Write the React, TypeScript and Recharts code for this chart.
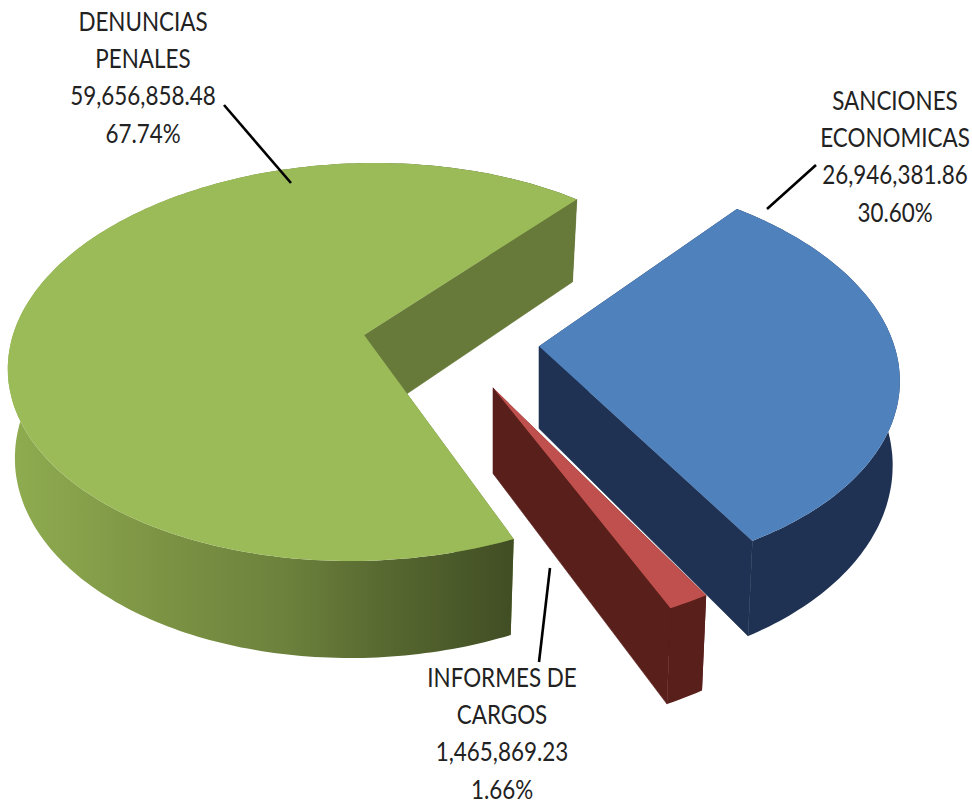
import React from 'react';
import { PieChart, Pie } from 'recharts';

const names = ['SANCIONES ECONOMICAS', 'INFORMES DE CARGOS', 'DENUNCIAS PENALES'];
const amounts = [26946381.86, 1465869.23, 59656858.48];
const data = names.map((name, i) => ({ name, value: amounts[i] }));

// fitted ellipse of every exploded slice, the picture has perspective so they differ a bit
const views: Record<string, any> = {
    'SANCIONES ECONOMICAS': {
        cx: 540.8, cy: 373.7, rx: 358.8, ry: 201.6, shear: 0.0657, d0: 84, d1: 13.5,
        top: '#4f81bd', wall: '#1f3253', outer: '#1f3253',
    },
    'INFORMES DE CARGOS': {
        cx: 494.7, cy: 417, rx: 360, ry: 215, shear: 0.0576, d0: 87, d1: 10,
        top: '#c0504d', wall: '#591f1b', outer: '#591f1b',
    },
    'DENUNCIAS PENALES': {
        cx: 362.4, cy: 362, rx: 354.4, ry: 199, shear: -0.0617, d0: 89, d1: 8,
        top: '#9bbb59', wall: '#687a3a', outer: 'url(#greenWall)',
    },
};

const labelPlaces: Record<string, any> = {
    'SANCIONES ECONOMICAS': {
        x: 895, y: 110, lines: ['SANCIONES', 'ECONOMICAS'], leader: 'M767,209 L816,165',
    },
    'INFORMES DE CARGOS': {
        x: 502, y: 687, lines: ['INFORMES DE', 'CARGOS'], leader: 'M550,568 L539,662',
    },
    'DENUNCIAS PENALES': {
        x: 143, y: 31, lines: ['DENUNCIAS', 'PENALES'], leader: 'M224,105 L291,183',
    },
};

const PERSPECTIVE = -0.136;
const LINE_HEIGHT = 37.2;
const TEXT_SQUEEZE = 0.815;
const RAD = Math.PI / 180;

function project(view: any, angle: number, radius: number) {
    // radius 0 is the slice tip, radius 1 the rim
    const u0 = radius * Math.cos(angle * RAD);
    const v0 = -radius * Math.sin(angle * RAD);
    const k = PERSPECTIVE;
    const den = 1 + k * v0;
    const v = (v0 + k) / den;
    const u = (u0 * Math.sqrt(1 - k * k)) / den;
    const y = view.cy + view.ry * v;
    const x = view.cx + view.rx * u + view.shear * (y - view.cy);
    return { x, y, v };
}

function dropped(view: any, p: { x: number; y: number; v: number }) {
    return {
        x: view.cx + (p.x - view.cx) * 0.98,
        y: p.y + view.d0 + view.d1 * p.v,
    };
}

const toPath = (pts: { x: number; y: number }[]) =>
    pts.map((p, i) => `${i ? 'L' : 'M'}${p.x.toFixed(1)},${p.y.toFixed(1)}`).join(' ') + ' Z';

function Slice3D(props: any) {
    const { name, startAngle, endAngle } = props;
    const view = views[name];
    const steps = Math.max(2, Math.ceil(Math.abs(endAngle - startAngle)));
    const rim = [];
    for (let i = 0; i <= steps; i++) {
        rim.push(project(view, startAngle + ((endAngle - startAngle) * i) / steps, 1));
    }
    const tip = project(view, 0, 0);
    const first = rim[0];
    const last = rim[rim.length - 1];
    const rimBelow = rim.map((p) => dropped(view, p)).reverse();
    return (
        <g>
            <defs>
                <linearGradient id="greenWall" gradientUnits="userSpaceOnUse" x1="12" y1="0" x2="512" y2="0">
                    <stop offset="0" stopColor="#8fac50" />
                    <stop offset="0.3" stopColor="#7c9344" />
                    <stop offset="0.55" stopColor="#6c813c" />
                    <stop offset="0.75" stopColor="#576830" />
                    <stop offset="1" stopColor="#414e24" />
                </linearGradient>
            </defs>
            {/* paint order matters: the wall at the sweep's end is the one facing the viewer */}
            <path d={toPath([tip, first, dropped(view, first), dropped(view, tip)])} fill={view.wall} />
            <path d={toPath([...rim, ...rimBelow])} fill={view.outer} />
            <path
                d={toPath([tip, last, dropped(view, last), dropped(view, tip)])}
                fill={view.wall}
                stroke={view.wall}
                strokeWidth={0.6}
            />
            <path d={toPath([tip, ...rim])} fill={view.top} />
        </g>
    );
}

function SliceLabel(props: any) {
    const { name, value, percent } = props;
    const place = labelPlaces[name];
    const rows = [
        ...place.lines,
        value.toLocaleString('en-US', { minimumFractionDigits: 2 }),
        `${(percent * 100).toFixed(2)}%`,
    ];
    return (
        <g>
            <path d={place.leader} stroke="#000" strokeWidth={2.6} fill="none" />
            {rows.map((row: string, i: number) => (
                <text
                    key={row}
                    transform={`translate(${place.x},${place.y + i * LINE_HEIGHT}) scale(${TEXT_SQUEEZE},1)`}
                    textAnchor="middle"
                    fontFamily="Lato, sans-serif"
                    fontSize={27.5}
                    fill="#222"
                >
                    {row}
                </text>
            ))}
        </g>
    );
}

export default function App() {
    return (
        <div style={{ position: 'absolute', left: 0, top: 0, width: 972, height: 803, background: '#fff' }}>
            <PieChart width={972} height={803} margin={{ top: 0, right: 0, bottom: 0, left: 0 }}>
                <Pie
                    data={data}
                    dataKey="value"
                    nameKey="name"
                    cx={486}
                    cy={400}
                    outerRadius={300}
                    startAngle={50}
                    endAngle={-310}
                    stroke="none"
                    shape={Slice3D}
                    label={SliceLabel}
                    labelLine={false}
                    isAnimationActive={false}
                />
            </PieChart>
        </div>
    );
}
